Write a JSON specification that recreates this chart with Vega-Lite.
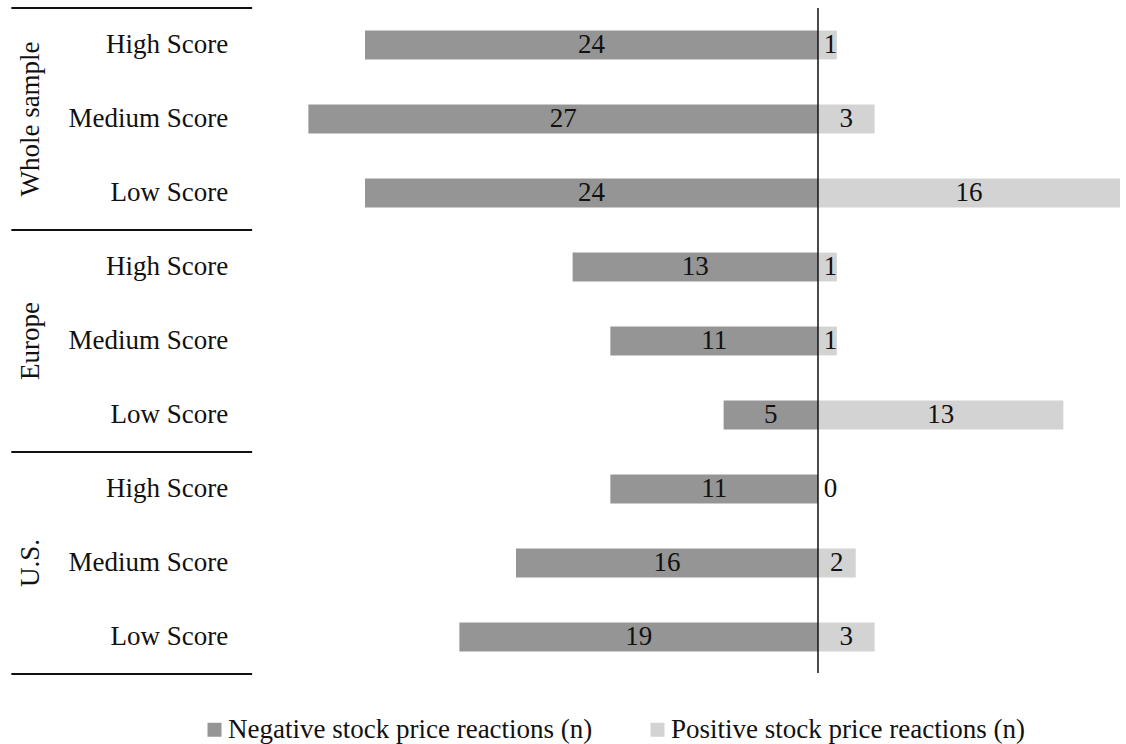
{
  "$schema": "https://vega.github.io/schema/vega-lite/v6.json",
  "width": 1126,
  "height": 666,
  "autosize": {"type": "none"},
  "padding": {"left": 0, "top": 8, "right": 0, "bottom": 70},
  "background": "white",
  "config": {"view": {"stroke": null}, "font": "Liberation Serif", "text": {"font": "Liberation Serif"}},
  "datasets": {
    "rows": [
      {"group": "Whole sample", "score": "High Score", "series": "Negative stock price reactions (n)", "n": 24},
      {"group": "Whole sample", "score": "High Score", "series": "Positive stock price reactions (n)", "n": 1},
      {"group": "Whole sample", "score": "Medium Score", "series": "Negative stock price reactions (n)", "n": 27},
      {"group": "Whole sample", "score": "Medium Score", "series": "Positive stock price reactions (n)", "n": 3},
      {"group": "Whole sample", "score": "Low Score", "series": "Negative stock price reactions (n)", "n": 24},
      {"group": "Whole sample", "score": "Low Score", "series": "Positive stock price reactions (n)", "n": 16},
      {"group": "Europe", "score": "High Score", "series": "Negative stock price reactions (n)", "n": 13},
      {"group": "Europe", "score": "High Score", "series": "Positive stock price reactions (n)", "n": 1},
      {"group": "Europe", "score": "Medium Score", "series": "Negative stock price reactions (n)", "n": 11},
      {"group": "Europe", "score": "Medium Score", "series": "Positive stock price reactions (n)", "n": 1},
      {"group": "Europe", "score": "Low Score", "series": "Negative stock price reactions (n)", "n": 5},
      {"group": "Europe", "score": "Low Score", "series": "Positive stock price reactions (n)", "n": 13},
      {"group": "U.S.", "score": "High Score", "series": "Negative stock price reactions (n)", "n": 11},
      {"group": "U.S.", "score": "High Score", "series": "Positive stock price reactions (n)", "n": 0},
      {"group": "U.S.", "score": "Medium Score", "series": "Negative stock price reactions (n)", "n": 16},
      {"group": "U.S.", "score": "Medium Score", "series": "Positive stock price reactions (n)", "n": 2},
      {"group": "U.S.", "score": "Low Score", "series": "Negative stock price reactions (n)", "n": 19},
      {"group": "U.S.", "score": "Low Score", "series": "Positive stock price reactions (n)", "n": 3}
    ]
  },
  "data": {"name": "rows"},
  "transform": [
    {"calculate": "datum.group + ' | ' + datum.score", "as": "row"},
    {"calculate": "datum.series == 'Negative stock price reactions (n)' ? -datum.n : datum.n", "as": "signed"},
    {"calculate": "datum.series == 'Negative stock price reactions (n)' ? -datum.n / 2 : max(datum.n / 2, 0.66)", "as": "labelX"}
  ],
  "encoding": {
    "y": {
      "field": "row",
      "type": "nominal",
      "sort": null,
      "scale": {
        "domain": ["Whole sample | High Score", "Whole sample | Medium Score", "Whole sample | Low Score", "Europe | High Score", "Europe | Medium Score", "Europe | Low Score", "U.S. | High Score", "U.S. | Medium Score", "U.S. | Low Score"],
        "paddingInner": 0,
        "paddingOuter": 0
      },
      "axis": null
    }
  },
  "layer": [
    {
      "mark": {"type": "bar", "height": {"band": 0.39}},
      "encoding": {
        "x": {"field": "signed", "type": "quantitative", "scale": {"domain": [-43.34, 16.32], "nice": false, "zero": false}, "axis": null},
        "x2": {"datum": 0},
        "color": {
          "field": "series",
          "type": "nominal",
          "scale": {"domain": ["Negative stock price reactions (n)", "Positive stock price reactions (n)"], "range": ["#959595", "#d3d3d3"]},
          "legend": {
            "orient": "none",
            "legendX": 201,
            "legendY": 708,
            "padding": 0,
            "direction": "horizontal",
            "title": null,
            "symbolType": "square",
            "symbolSize": 196,
            "symbolStrokeWidth": 0,
            "labelFontSize": 27,
            "labelFont": "Liberation Serif",
            "labelColor": "#111111",
            "labelOffset": 0,
            "labelLimit": 0,
            "columnPadding": 51
          }
        }
      }
    },
    {
      "mark": {"type": "text", "font": "Liberation Serif", "fontSize": 27, "color": "#111111", "align": "center", "baseline": "middle"},
      "encoding": {
        "x": {"field": "labelX", "type": "quantitative"},
        "text": {"field": "n", "type": "quantitative"}
      }
    },
    {
      "transform": [{"filter": "datum.series == 'Negative stock price reactions (n)'"}],
      "mark": {"type": "text", "font": "Liberation Serif", "fontSize": 27, "color": "#111111", "align": "right", "baseline": "middle"},
      "encoding": {
        "x": {"datum": -31.25},
        "text": {"field": "score"}
      }
    },
    {
      "transform": [{"filter": "datum.series == 'Negative stock price reactions (n)' && datum.score == 'Medium Score'"}],
      "mark": {"type": "text", "font": "Liberation Serif", "fontSize": 27, "color": "#111111", "align": "center", "baseline": "middle", "angle": 270},
      "encoding": {
        "x": {"datum": -41.7},
        "text": {"field": "group"}
      }
    },
    {
      "transform": [{"filter": "datum.series == 'Negative stock price reactions (n)' && datum.score == 'High Score'"}],
      "mark": {"type": "rule", "color": "#111111", "strokeWidth": 2},
      "encoding": {
        "y": {"field": "row", "type": "nominal", "bandPosition": 0},
        "x": {"datum": -42.74},
        "x2": {"datum": -29.98}
      }
    },
    {
      "transform": [{"filter": "datum.series == 'Negative stock price reactions (n)' && datum.group == 'U.S.' && datum.score == 'Low Score'"}],
      "mark": {"type": "rule", "color": "#111111", "strokeWidth": 2},
      "encoding": {
        "y": {"field": "row", "type": "nominal", "bandPosition": 1},
        "x": {"datum": -42.74},
        "x2": {"datum": -29.98}
      }
    },
    {
      "transform": [{"filter": "datum.series == 'Negative stock price reactions (n)' && datum.group == 'Whole sample' && datum.score == 'High Score'"}],
      "mark": {"type": "rule", "color": "#111111", "strokeWidth": 1.5},
      "encoding": {
        "x": {"datum": 0},
        "y": {"value": 0},
        "y2": {"value": 665}
      }
    }
  ]
}
